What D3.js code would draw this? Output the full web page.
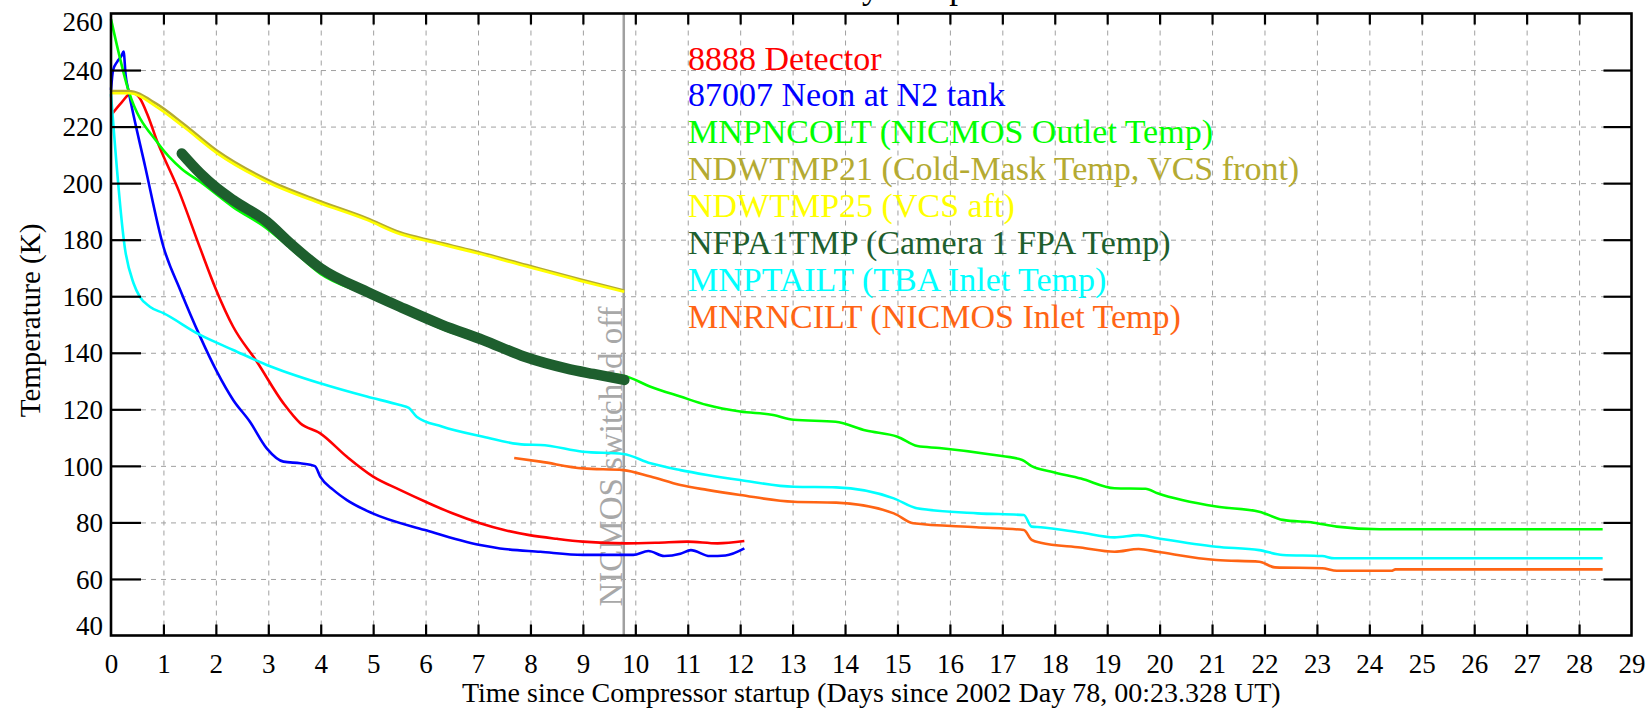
<!DOCTYPE html>
<html>
<head>
<meta charset="utf-8">
<script src="https://cdn.jsdelivr.net/npm/d3@7"></script>
<style>
  body { margin: 0; background: #fff; }
  svg { display: block; }
  text { font-family: "Liberation Serif", "Times New Roman", serif; }
</style>
</head>
<body>
<svg id="chart" width="1652" height="714"></svg>
<script>
// Data: [days since compressor startup, temperature K]
const detector8888 = [[0,224],[0.2,228.5],[0.4,232],[0.55,230],[0.7,224],[0.87,215.3],[1.3,197],[1.7,177],[2.0,162.5],[2.33,149.2],
  [2.78,136.9],[3.29,122.1],[3.61,115.1],[3.99,111.5],[4.5,103.2],[5.0,96.2],[5.51,91.5],[6.0,87.3],[6.5,83.3],[7.04,79.7],
  [7.5,77.3],[7.98,75.5],[8.5,74.2],[9.0,73.2],[9.82,72.6],[10.4,72.8],[10.99,73.2],[11.57,72.6],[12.08,73.4]];
const neon87007 = [[0,233],[0.04,240],[0.12,243],[0.2,245],[0.24,246.5],[0.28,238],[0.33,233],[0.65,206],[1.0,177.5],[1.32,162.2],
  [1.7,145.7],[2.02,133.3],[2.33,123.3],[2.65,115.6],[2.97,106.2],[3.29,101.5],[3.61,100.9],[3.89,99.9],[3.99,96.2],[4.24,91.5],
  [4.5,87.9],[4.99,83.2],[5.99,77.3],[7.04,72],[7.42,70.8],[8.19,69.6],[9.0,68.5],[9.96,68.5],[10.25,69.9],[10.55,68.1],
  [10.86,68.9],[11.06,70.2],[11.42,68.1],[11.72,68.3],[12.08,70.8]];
const mnpncolt = [[0,258],[0.33,233],[0.9,214],[1.35,205],[1.7,200.5],[2.33,191.5],[2.97,184],[3.42,177],[3.99,168],[4.88,160.5],
  [5.51,155.3],[6.31,148.5],[7.1,143.5],[7.89,137.8],[8.68,133.8],[9.79,131.8],[10.29,128],[10.86,124.5],[11.37,121.5],[12.0,119.2],
  [12.63,118],[13.02,116.3],[13.82,115.6],[14.4,112.5],[15.0,110.3],[15.38,107],[15.8,106.3],[16.78,104],[17.38,102.1],[17.55,100],
  [17.92,98],[18.5,95.5],[19.14,92.1],[19.73,91.9],[19.96,90.3],[21.08,85.6],[21.9,83.8],[22.35,80.9],[22.94,79.9],[23.38,78.5],
  [24.2,77.6],[28.45,77.6]];
const ndwtmp21 = [[0,232.6],[0.33,232.6],[0.87,228],[1.38,221],[2.02,211.5],[2.97,201.3],[3.99,193.6],[4.88,187.6],[5.51,182.6],
  [6.15,179.5],[6.93,176],[7.93,171],[8.94,166],[9.79,162]];
const ndwtmp25 = [[0,231.8],[0.36,231.8],[0.87,227],[1.38,220],[2.02,210.6],[2.97,200.5],[3.99,192.9],[4.88,187],[5.51,182],
  [6.15,179],[6.93,175.5],[7.93,170.5],[8.94,165.5],[9.79,161.6]];
const nfpa1tmp = [[1.35,210.5],[1.7,203.5],[2.0,198.5],[2.33,194],[2.97,186.4],[3.42,178.7],[3.99,170],[4.88,161.6],[5.51,156.3],
  [6.31,149.9],[7.1,144.5],[7.89,138.6],[8.68,134.5],[9.2,132.5],[9.79,130.4]];
const mnptailt = [[0,231.5],[0.27,176.4],[0.43,164.6],[0.55,159.8],[0.74,156.3],[1.0,154],[1.7,146.3],[2.33,141],[2.97,135.7],
  [3.99,129.2],[4.88,124.5],[5.51,121.5],[5.68,120.5],[5.83,117.4],[6.31,113.9],[7.1,110.3],[7.89,107.5],[8.19,107.4],[9.0,105],
  [9.77,104.2],[10.29,100.9],[10.86,98.5],[11.37,96.8],[12.0,95],[13.02,92.6],[13.83,92.4],[14.93,88.5],[15.37,85],[16.53,83.2],
  [17.41,82.6],[17.56,78.5],[17.73,78.3],[18.49,76.4],[19.14,74.7],[19.6,75.5],[19.96,74.4],[21.08,71.4],[21.9,70.2],[22.35,68.5],
  [23.1,68.1],[23.33,67.3],[28.45,67.3]];
const mnrncilt = [[7.69,102.8],[8.19,101.5],[9.0,99.1],[9.77,98.5],[10.29,96.2],[10.86,93.2],[11.37,91.5],[12.0,89.7],[13.02,87.3],
  [13.83,87],[14.93,83.2],[15.3,79.7],[16.5,78.3],[17.41,77.3],[17.56,73.8],[17.73,72.8],[18.49,71.1],[19.14,69.6],[19.6,70.6],
  [19.96,69.6],[21.08,66.7],[21.9,66.1],[22.2,64.1],[23.1,63.8],[23.38,62.9],[24.42,62.9],[24.5,63.4],[28.45,63.4]];

const seriesLabels = ["8888 Detector", "87007 Neon at N2 tank", "MNPNCOLT (NICMOS Outlet Temp)",
  "NDWTMP21 (Cold-Mask Temp, VCS front)", "NDWTMP25 (VCS aft)", "NFPA1TMP (Camera 1 FPA Temp)",
  "MNPTAILT (TBA Inlet Temp)", "MNRNCILT (NICMOS Inlet Temp)"];
const seriesData = [detector8888, neon87007, mnpncolt, ndwtmp21, ndwtmp25, nfpa1tmp, mnptailt, mnrncilt];
const seriesColors = ["#ff0000", "#0000ff", "#00ff00", "#b4aa32", "#ffff00", "#1e5f2e", "#00ffff", "#ff6414"];

const xTicks = d3.range(0, 30);
const yTicks = d3.range(40, 261, 20);
const switchOffDay = 9.78;
const switchOffLabel = "NICMOS switched off";
const titleText = "NICMOS Cooldown History Temperatures";
const xLabel = "Time since Compressor startup (Days since 2002 Day 78, 00:23.328 UT)";
const yLabel = "Temperature (K)";

// Setup
const svg = d3.select("#chart");
const plotLeft = 111, plotRight = 1631.5, plotTop = 13.5, plotBottom = 635.5;

const x = d3.scaleLinear().domain([0, 29]).range([plotLeft, plotRight]);
const y = d3.scaleLinear().domain([40, 260]).range([plotBottom, plotTop]);

// grid
svg.append("g")
    .attr("transform", `translate(0,${plotBottom})`)
    .call(d3.axisBottom(x).tickValues(xTicks.slice(1, -1)).tickSize(-(plotBottom - plotTop)).tickFormat(""))
    .call(g => g.select(".domain").remove())
    .selectAll("line")
    .attr("stroke", "#a0a0a0")
    .attr("stroke-dasharray", "5,5");

svg.append("g")
    .attr("transform", `translate(${plotLeft},0)`)
    .call(d3.axisLeft(y).tickValues(yTicks.slice(1, -1)).tickSize(-(plotRight - plotLeft)).tickFormat(""))
    .call(g => g.select(".domain").remove())
    .selectAll("line")
    .attr("stroke", "#a0a0a0")
    .attr("stroke-dasharray", "5,5");

// switch-off marker
svg.append("line")
    .attr("x1", x(switchOffDay)).attr("x2", x(switchOffDay))
    .attr("y1", plotTop).attr("y2", plotBottom)
    .attr("stroke", "#a0a0a0")
    .attr("stroke-width", 2.5);

svg.append("text")
    .attr("transform", `translate(${x(switchOffDay) - 2},${plotBottom - 29}) rotate(-90)`)
    .style("font-size", "33px")
    .style("fill", "#a8a8a8")
    .text(switchOffLabel);

// curves
const line = d3.line()
    .curve(d3.curveMonotoneX)
    .x(d => x(d[0]))
    .y(d => y(d[1]));

svg.append("g")
    .selectAll("path")
    .data(seriesData)
    .join("path")
        .attr("d", line)
        .attr("fill", "none")
        .attr("stroke", (d, i) => seriesColors[i])
        .attr("stroke-width", d => d === nfpa1tmp ? 10.5 : 2.6)
        .attr("stroke-linejoin", "round")
        .attr("stroke-linecap", d => d === nfpa1tmp ? "round" : "butt");

// inward ticks
const tickStyle = g => {
    g.select(".domain").remove();
    g.selectAll("line").attr("stroke", "#000").attr("stroke-width", 2.2);
};
svg.append("g").attr("transform", `translate(0,${plotBottom})`)
    .call(d3.axisBottom(x).tickValues(xTicks.slice(1, -1)).tickSize(-11).tickFormat(""))
    .call(tickStyle);
svg.append("g").attr("transform", `translate(0,${plotTop})`)
    .call(d3.axisTop(x).tickValues(xTicks.slice(1, -1)).tickSize(-11).tickFormat(""))
    .call(tickStyle);
svg.append("g").attr("transform", `translate(${plotLeft},0)`)
    .call(d3.axisLeft(y).tickValues(yTicks.slice(1, -1)).tickSize(-30).tickFormat(""))
    .call(tickStyle);
svg.append("g").attr("transform", `translate(${plotRight},0)`)
    .call(d3.axisRight(y).tickValues(yTicks.slice(1, -1)).tickSize(-28).tickFormat(""))
    .call(tickStyle);

// tick labels
svg.append("g")
    .attr("transform", `translate(0,${plotBottom})`)
    .call(d3.axisBottom(x).tickValues(xTicks).tickSize(0).tickPadding(18).tickFormat(d3.format("d")))
    .call(g => g.select(".domain").remove())
    .selectAll("text")
    .style("font-size", "27px")
    .attr("fill", "#000");

svg.append("g")
    .attr("transform", `translate(${plotLeft},0)`)
    .call(d3.axisLeft(y).tickValues(yTicks).tickSize(0).tickPadding(8).tickFormat(d3.format("d")))
    .call(g => g.select(".domain").remove())
    .selectAll("text")
    .style("font-size", "27px")
    .attr("fill", "#000")
    .attr("dy", d => d === 260 ? "0.62em" : d === 40 ? "-0.02em" : "0.34em");

// frame
svg.append("rect")
    .attr("x", plotLeft).attr("y", plotTop)
    .attr("width", plotRight - plotLeft).attr("height", plotBottom - plotTop)
    .attr("fill", "none")
    .attr("stroke", "#000")
    .attr("stroke-width", 2.6);

// legend (coloured text)
svg.append("g")
    .selectAll("text")
    .data(seriesLabels)
    .join("text")
        .attr("x", 688)
        .attr("y", (d, i) => 69.5 + i * 36.9)
        .style("font-size", "34px")
        .attr("fill", (d, i) => seriesColors[i])
        .text(d => d);

// axis titles
svg.append("text")
    .attr("x", (plotLeft + plotRight) / 2)
    .attr("y", 702)
    .attr("text-anchor", "middle")
    .style("font-size", "28px")
    .text(xLabel);

svg.append("text")
    .attr("transform", `translate(40,${(plotTop + plotBottom) / 2 - 4}) rotate(-90)`)
    .attr("text-anchor", "middle")
    .style("font-size", "29px")
    .text(yLabel);

// title, mostly cut off by the top edge
const title = svg.append("text")
    .attr("y", -2)
    .style("font-size", "35px")
    .text(titleText);
const yPos = title.node().getStartPositionOfChar(titleText.indexOf("y Temp")).x;
title.attr("x", 862 - yPos);
</script>
</body>
</html>
